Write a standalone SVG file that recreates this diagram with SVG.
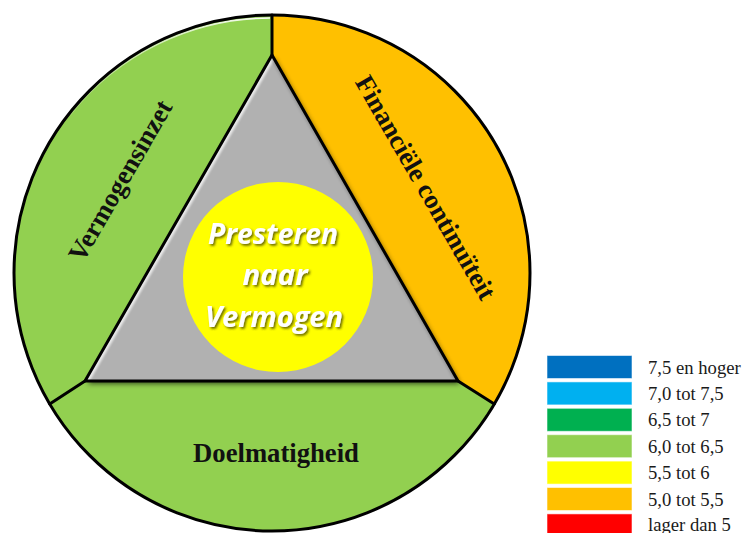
<svg xmlns="http://www.w3.org/2000/svg" width="744" height="533" viewBox="0 0 744 533">
  <style>
    .seg-line { stroke: #000; stroke-width: 3; fill: none; stroke-linecap: round; stroke-linejoin: round; }
    .label { font-family: "Liberation Serif", "Times New Roman", serif; font-weight: bold; font-size: 26.67px; fill: #111; }
    .core { font-family: "Open Sans", Lato, "Liberation Sans", sans-serif; font-weight: bold; font-style: italic; font-size: 28px; fill: #fff; text-anchor: middle; }
    .legend-box { stroke: #ffffff; stroke-opacity: 0.55; stroke-width: 1; }
    .legend-text { font-family: "Liberation Serif", "Times New Roman", serif; font-size: 18.67px; fill: #1a1a1a; }
  </style>
  <defs>
    <clipPath id="triClip">
      <polygon points="272,55 85,381 458,381"/>
    </clipPath>
    <filter id="soft" x="-20%" y="-20%" width="140%" height="140%">
      <feGaussianBlur stdDeviation="2.5"/>
    </filter>
    <filter id="soft1" x="-20%" y="-20%" width="140%" height="140%">
      <feGaussianBlur stdDeviation="1.2"/>
    </filter>
    <filter id="textShadow" x="-10%" y="-20%" width="130%" height="150%">
      <feDropShadow dx="1.6" dy="1.8" stdDeviation="1" flood-color="#3a3a00" flood-opacity="0.75"/>
    </filter>
    <linearGradient id="rimGlow" x1="272" y1="17" x2="60" y2="200" gradientUnits="userSpaceOnUse">
      <stop offset="0" stop-color="#fff" stop-opacity="0.95"/>
      <stop offset="1" stop-color="#fff" stop-opacity="0"/>
    </linearGradient>
  </defs>

  <!-- outer ring: three segments -->
  <g id="segment-vermogensinzet">
    <path d="M272,15 A258,258 0 0 0 49.7,404 L85,381 L272,55 Z" fill="#92D050"/>
    <path d="M270,18 A255,255 0 0 0 70,115" fill="none" stroke="url(#rimGlow)" stroke-width="1.6"/>
  </g>
  <g id="segment-financiele-continuiteit">
    <path d="M272,15 A258,258 0 0 1 494.3,404 L458,381 L272,55 Z" fill="#FFC000"/>
  </g>
  <g id="segment-doelmatigheid">
    <path d="M494.3,404 A258,258 0 0 1 49.7,404 L85,381 L458,381 Z" fill="#92D050"/>
  </g>

  <!-- centre triangle with bevel -->
  <g id="triangle">
    <polygon points="272,55 85,381 458,381" fill="#000" opacity="0.6" filter="url(#soft)" transform="translate(2.5,3)"/>
    <polygon points="272,55 85,381 458,381" fill="#B1B1B1"/>
    <g clip-path="url(#triClip)">
      <line x1="272" y1="55" x2="85" y2="381" stroke="#fff" stroke-width="8" opacity="0.75" filter="url(#soft1)"/>
      <line x1="85" y1="381" x2="458" y2="381" stroke="#3a3a3a" stroke-width="12" opacity="0.7" filter="url(#soft1)"/>
      <line x1="272" y1="55" x2="458" y2="381" stroke="#6a6a6a" stroke-width="6" opacity="0.35" filter="url(#soft1)"/>
    </g>
    <polygon points="272,55 85,381 458,381" fill="none" stroke="#000" stroke-width="3" stroke-linejoin="round"/>
  </g>

  <!-- dividers and rim -->
  <g id="connectors">
    <path class="seg-line" d="M272,15 L272,55"/>
    <path class="seg-line" d="M85,381 L49.7,404"/>
    <path class="seg-line" d="M458,381 L494.3,404"/>
    <circle cx="272" cy="273" r="258" fill="none" stroke="#000" stroke-width="3"/>
  </g>

  <!-- segment labels -->
  <g id="label-vermogensinzet">
    <text class="label" x="128" y="185" text-anchor="middle" transform="rotate(-60 128 185)">Vermogensinzet</text>
  </g>
  <g id="label-financiele-continuiteit">
    <text class="label" x="418" y="192" text-anchor="middle" transform="rotate(60 418 192)">Financiële continuïteit</text>
  </g>
  <g id="label-doelmatigheid">
    <text class="label" x="276" y="462" text-anchor="middle">Doelmatigheid</text>
  </g>

  <!-- core circle -->
  <g id="core">
    <circle cx="278" cy="277" r="95" fill="#FFFF00"/>
    <g filter="url(#textShadow)">
      <text class="core" x="273" y="244" textLength="130" lengthAdjust="spacingAndGlyphs">Presteren</text>
      <text class="core" x="275" y="285" textLength="65" lengthAdjust="spacingAndGlyphs">naar</text>
      <text class="core" x="274" y="327" textLength="138" lengthAdjust="spacingAndGlyphs">Vermogen</text>
    </g>
  </g>

  <!-- colour legend -->
  <g id="legend">
    <rect class="legend-box" x="547" y="355.5" width="85" height="23" fill="#0070C0"/>
    <rect class="legend-box" x="547" y="381.9" width="85" height="23" fill="#00B0F0"/>
    <rect class="legend-box" x="547" y="408.3" width="85" height="23" fill="#00B050"/>
    <rect class="legend-box" x="547" y="434.7" width="85" height="23" fill="#92D050"/>
    <rect class="legend-box" x="547" y="461.1" width="85" height="23" fill="#FFFF00"/>
    <rect class="legend-box" x="547" y="487.5" width="85" height="23" fill="#FFC000"/>
    <rect class="legend-box" x="547" y="513.9" width="85" height="23" fill="#FF0000"/>
    <text class="legend-text" x="648" y="373.5">7,5 en hoger</text>
    <text class="legend-text" x="648" y="399.9">7,0 tot 7,5</text>
    <text class="legend-text" x="648" y="426.3">6,5 tot 7</text>
    <text class="legend-text" x="648" y="452.7">6,0 tot 6,5</text>
    <text class="legend-text" x="648" y="479.1">5,5 tot 6</text>
    <text class="legend-text" x="648" y="505.5">5,0 tot 5,5</text>
    <text class="legend-text" x="648" y="531">lager dan 5</text>
  </g>
</svg>
